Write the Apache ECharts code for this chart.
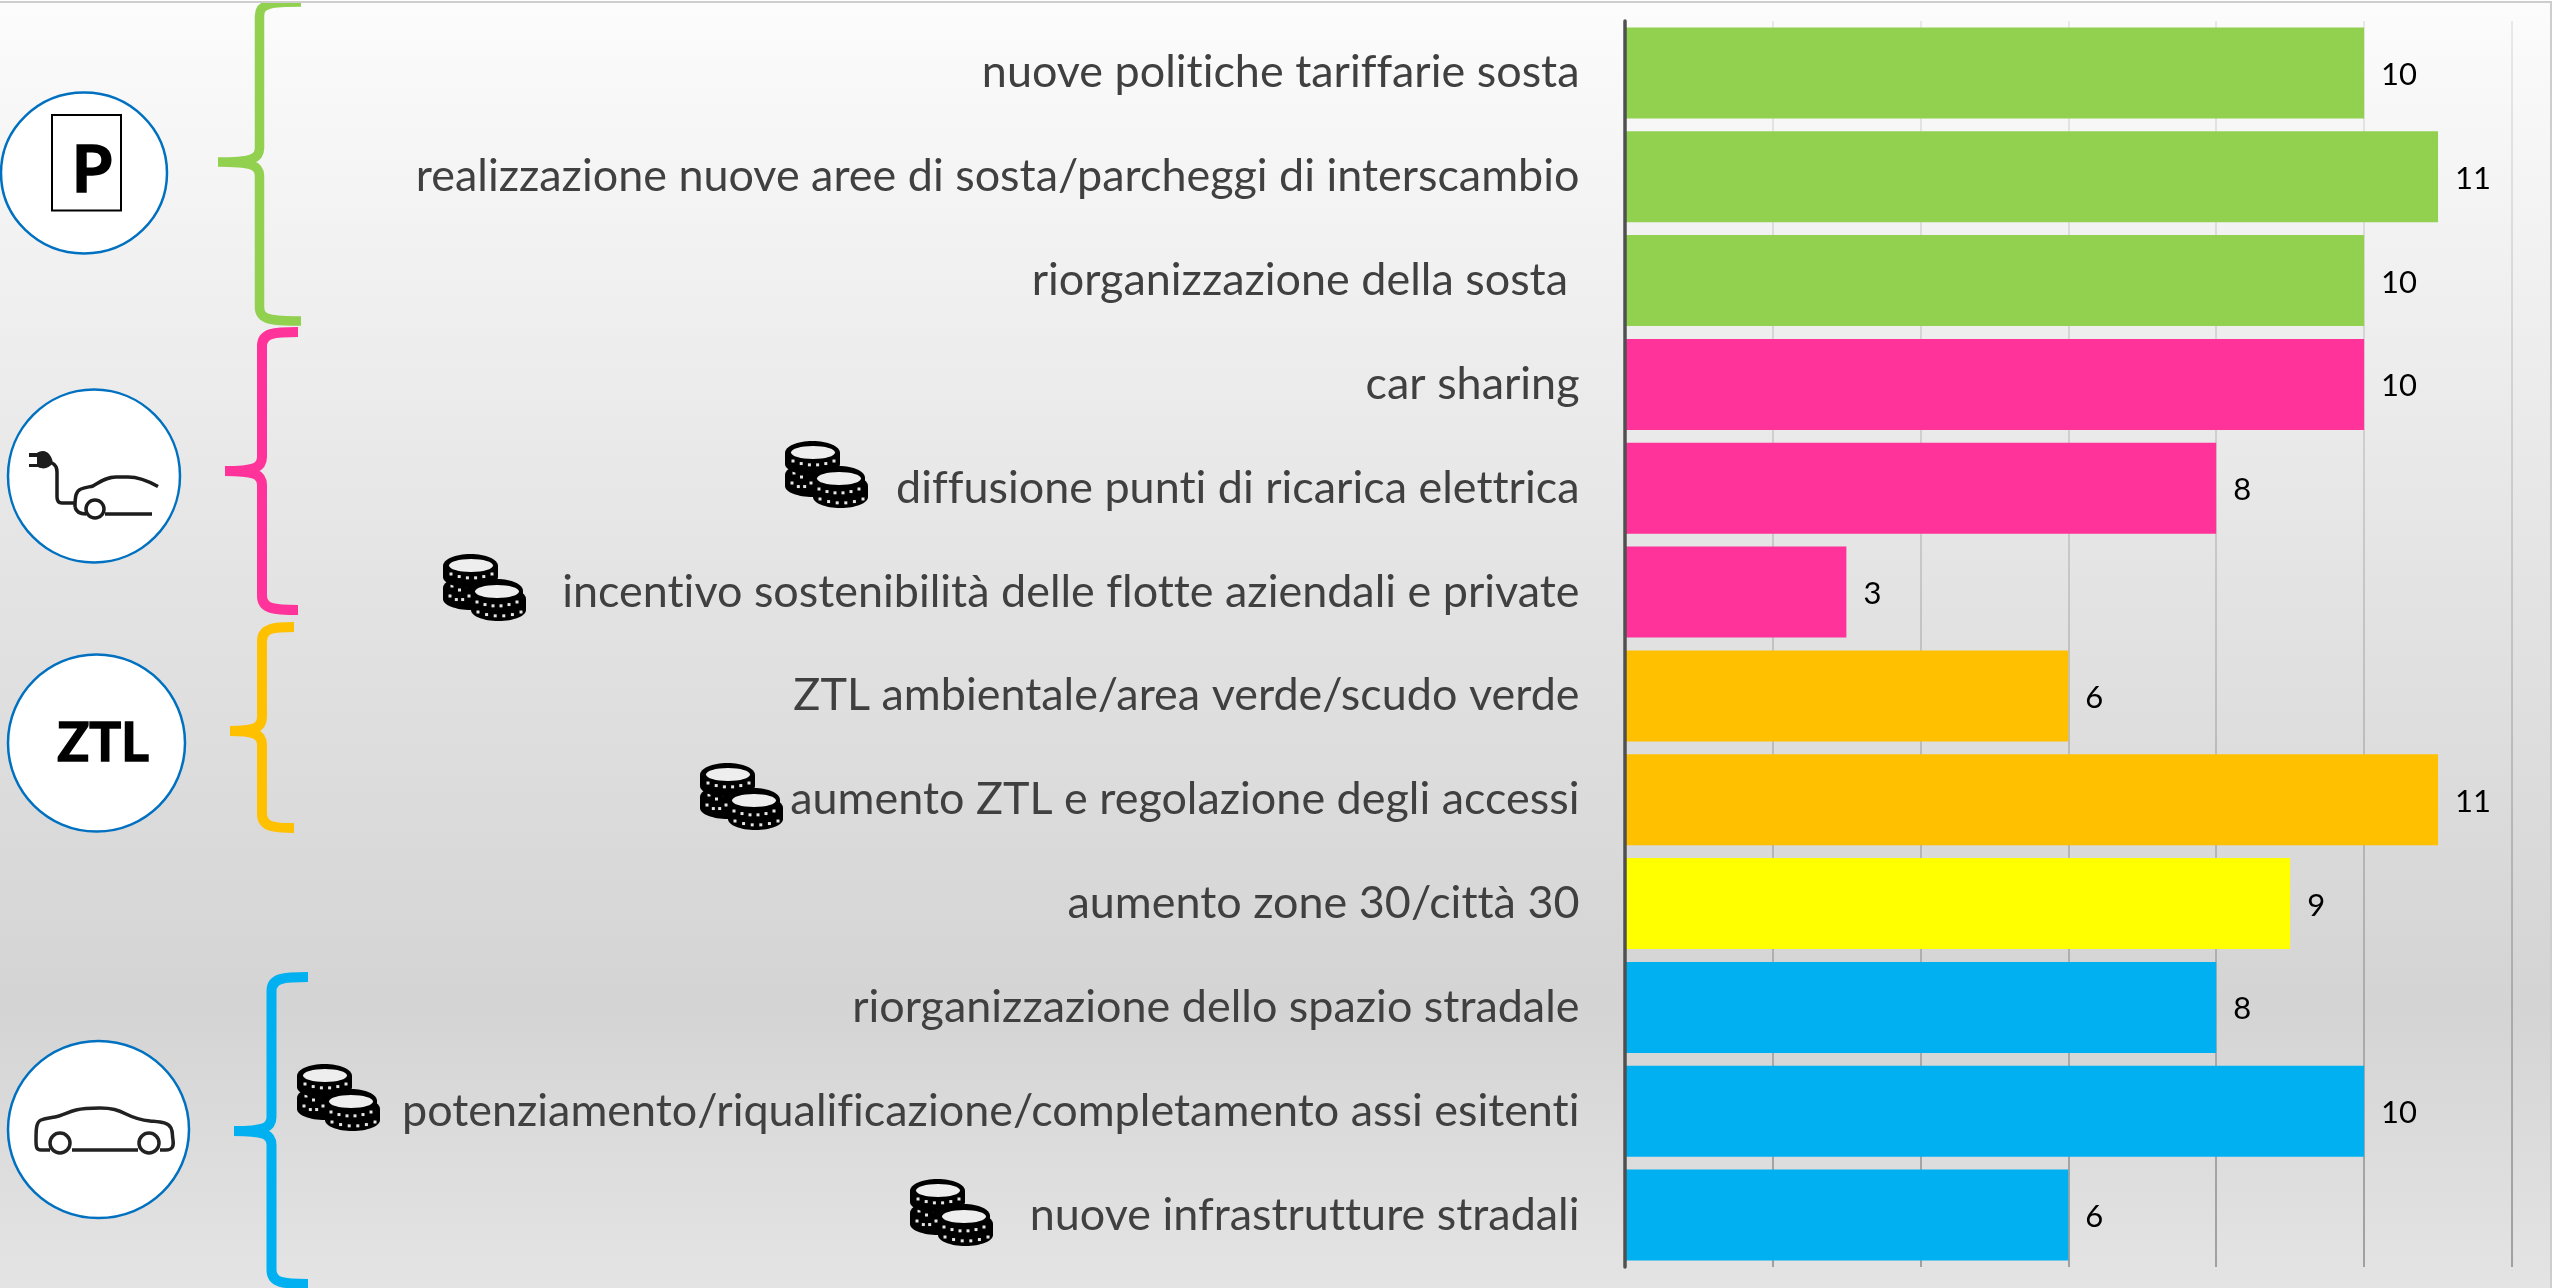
<!DOCTYPE html>
<html><head><meta charset="utf-8">
<style>html,body{margin:0;padding:0;background:#fff}#c{width:2552px;height:1288px}</style>
<script src="https://cdn.jsdelivr.net/npm/echarts@6/dist/echarts.min.js"></script>
</head><body><div id="c"></div>
<script>
const categories = [
  'nuove politiche tariffarie sosta',
  'realizzazione nuove aree di sosta/parcheggi di interscambio',
  'riorganizzazione della sosta ',
  'car sharing',
  'diffusione punti di ricarica elettrica',
  'incentivo sostenibilità delle flotte aziendali e private',
  'ZTL ambientale/area verde/scudo verde',
  'aumento ZTL e regolazione degli accessi',
  'aumento zone 30/città 30',
  'riorganizzazione dello spazio stradale',
  'potenziamento/riqualificazione/completamento assi esitenti',
  'nuove infrastrutture stradali'
];
const values = [10, 11, 10, 10, 8, 3, 6, 11, 9, 8, 10, 6];
const barColors = ['#92D050','#92D050','#92D050','#FF3399','#FF3399','#FF3399','#FFC000','#FFC000','#FFFF00','#00B0F0','#00B0F0','#00B0F0'];

// turn off the Lato ti/tt ligatures, which the reference text does not use
const origGetContext = HTMLCanvasElement.prototype.getContext;
HTMLCanvasElement.prototype.getContext = function(){
  const ctx = origGetContext.apply(this, arguments);
  if (ctx && 'letterSpacing' in ctx) ctx.letterSpacing = '0.01px';
  return ctx;
};

const G = echarts.graphic;
function pathShape(name, d){ G.registerShape(name, G.extendPath(d, {})); return name; }
function brace(name, xs, xe, xt, y0, ym, y1){
  const d = `M${xe} ${y0} C${xs+12} ${y0} ${xs} ${y0+1} ${xs} ${y0+14} L${xs} ${ym-14} C${xs} ${ym-3} ${xs-8} ${ym} ${xt} ${ym} `+
            `M${xe} ${y1} C${xs+12} ${y1} ${xs} ${y1-1} ${xs} ${y1-14} L${xs} ${ym+14} C${xs} ${ym+3} ${xs-8} ${ym} ${xt} ${ym}`;
  return pathShape(name, d);
}
const stroke = (c,w)=>({stroke:c,lineWidth:w,fill:null});
const gfx = [];
// braces
[['brG',259.5,301,218,2,162,321,'#92D050'],
 ['brP',262,298,225,332,471,610,'#FF3399'],
 ['brO',262,294,230,627,731,828,'#FFC000'],
 ['brB',271.5,308,234,977,1131,1284,'#00B0F0']].forEach(b=>{
  brace(b[0],b[1],b[2],b[3],b[4],b[5],b[6]);
  gfx.push({type:b[0],silent:true,style:stroke(b[7],b[0]==='brG'?9.5:10)});
});
// top and right edge
gfx.push({type:'rect',silent:true,shape:{x:0,y:0,width:2552,height:1},style:{fill:'#fff'}});
gfx.push({type:'rect',silent:true,shape:{x:0,y:1,width:2552,height:2},style:{fill:'#cdcdcd'}});
gfx.push({type:'rect',silent:true,shape:{x:2550,y:1,width:2,height:1287},style:{fill:'#cdcdcd'}});
// badges
[[84,173,83,80.5],[94,476,86,86.5],[96.5,743,88.5,88.5],[98.5,1129.5,90.5,88.5]].forEach(e=>{
  gfx.push({type:'ellipse',silent:true,shape:{cx:e[0],cy:e[1],rx:e[2],ry:e[3]},style:{fill:'#fff',stroke:'#0070C0',lineWidth:2.5}});
});
// P badge
gfx.push({type:'rect',silent:true,shape:{x:52,y:115,width:69,height:95.5},style:{fill:'#fff',stroke:'#000',lineWidth:2}});
gfx.push({type:'text',silent:true,x:92,y:171,style:{text:'P',font:'bold 65px Lato',fill:'#000',stroke:'#000',lineWidth:1.5,align:'center',verticalAlign:'middle'}});
gfx.push({type:'text',silent:true,x:103,y:744,style:{text:'ZTL',font:'bold 53px Lato',fill:'#000',stroke:'#000',lineWidth:1.5,align:'center',verticalAlign:'middle'}});
// EV icon
pathShape('evLine','M52 463 C56 465 57 468 57 472 L57 497 C57 501 59 503 62 503 L75 503 '+
  'M75 507 C75 496 76 491 81 489 C86 487 90 487 93 486 C100 482 106 477 116 477 L128 477 C140 477 150 482 158 486.5 '+
  'M75 507 C76 511 79 514 86 514 M105 514 L152 514');
gfx.push({type:'evLine',silent:true,style:{stroke:'#1c1c1c',lineWidth:3.5,fill:null}});
gfx.push({type:'circle',silent:true,shape:{cx:95,cy:509,r:9},style:{fill:'#fff',stroke:'#1c1c1c',lineWidth:3.5}});
pathShape('plug','M29 453 L37 453 C38 452 40 451 43 451 C48 451 52 456 53 463 C49 468 44 470 38 467 L29 467 L29 464 L37 464 L37 457 L29 457 Z');
gfx.push({type:'plug',silent:true,style:{fill:'#1c1c1c'}});
// car icon
pathShape('carBody','M50 1150 L41 1150 C36 1150 36 1146 36 1141 C36 1130 36 1122 41 1120 C46 1118 50 1118 55 1117 C62 1116 68 1112 76 1110 C84 1108 92 1108 100 1108 C112 1108 118 1110 126 1114 C134 1118 140 1120 150 1121 C160 1122 168 1122 171 1128 C173 1132 172 1135 173 1140 C174 1147 172 1150 166 1150 L160 1150 M72 1150 L138 1150');
gfx.push({type:'carBody',silent:true,style:{stroke:'#222',lineWidth:3.5,fill:null}});
[60,149].forEach(cx=>gfx.push({type:'circle',silent:true,shape:{cx:cx,cy:1143,r:10},style:{fill:'#fff',stroke:'#222',lineWidth:3.5}}));
// coins
function coinCoin(ox,oy,w){
  return {type:'group',x:ox,y:oy,children:[
    {type:'rect',silent:true,shape:{x:0,y:12,width:w,height:11},style:{fill:'#000'}},
    {type:'ellipse',silent:true,shape:{cx:w/2,cy:12,rx:w/2,ry:12},style:{fill:'#000'}},
    {type:'ellipse',silent:true,shape:{cx:w/2,cy:23,rx:w/2,ry:11},style:{fill:'#000'}}
  ]};
}
function dashes(x0,x1,y,n){
  const out=[]; const st=(x1-x0)/(n-1);
  for(let i=0;i<n;i++){
    const t=(i/(n-1)-0.5)*2;
    out.push({type:'rect',silent:true,shape:{x:x0+i*st-1.5,y:y-t*t*4-1.5,width:3,height:3},style:{fill:'#e6e6e6'}});
  }
  return out;
}
function coins(x,y){
  const ch=[
    coinCoin(0,23,56), ...dashes(7,26,47,4), ...dashes(9,24,37,3),
    coinCoin(0,1,55),  ...dashes(8,49,25,6),
    {type:'ellipse',silent:true,shape:{cx:28,cy:12.5,rx:22,ry:6.5},style:{fill:'#eee'}},
    coinCoin(28,34,55), ...dashes(35,78,63,6),
    coinCoin(28,26,52), ...dashes(34,74,53,6),
    {type:'ellipse',silent:true,shape:{cx:54,cy:38.5,rx:22,ry:6.5},style:{fill:'#eee'}}
  ];
  gfx.push({type:'group',silent:true,x:x,y:y,children:ch});
}
[[785,440],[443,553],[700,762],[297,1063],[910,1178]].forEach(p=>coins(p[0],p[1]));

const chart = echarts.init(document.getElementById('c'), null, {renderer:'canvas'});
chart.setOption({
  animation:false,
  backgroundColor:new G.LinearGradient(0,0,0,1,[
    {offset:0,color:'#fcfcfc'},{offset:0.48,color:'#e2e2e2'},{offset:0.78,color:'#d4d4d4'},{offset:1,color:'#e4e4e4'}]),
  grid:{left:1624.5,top:21,width:887.5,height:1246,containLabel:false},
  xAxis:{type:'value',min:0,max:12,interval:2,
    axisLabel:{show:false},axisTick:{show:false},axisLine:{show:false},
    splitLine:{show:true,lineStyle:{width:1.5,
      color:new G.LinearGradient(0,21,0,1267,[{offset:0,color:'#e2e2e2'},{offset:0.5,color:'#b8b8b8'},{offset:1,color:'#8a8a8a'}],true)}}},
  yAxis:{type:'category',inverse:true,data:categories,z:5,
    axisLine:{show:true,lineStyle:{color:'#505050',width:3.5}},axisTick:{show:false},
    axisLabel:{margin:45,fontFamily:'Lato',fontSize:44.9,color:'#404040',interval:0}},
  series:[{type:'bar',barCategoryGap:'12.4%',
    data:values.map((v,i)=>({value:v,itemStyle:{color:barColors[i]}})),
    label:{show:true,position:'right',distance:17,offset:[0,2],fontFamily:'Lato',fontSize:31,color:'#000'}}],
  graphic:{elements:gfx}
});
</script></body></html>
